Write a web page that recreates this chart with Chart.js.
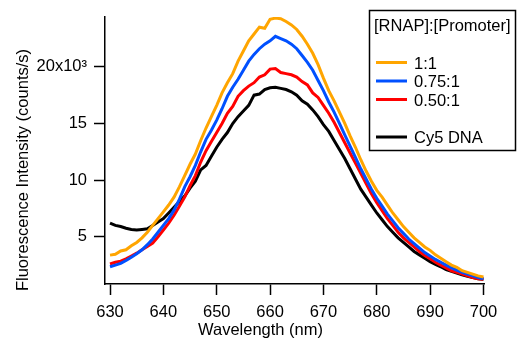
<!DOCTYPE html>
<html lang="en">
<head>
  <meta charset="UTF-8" />
  <title>Fluorescence spectra</title>
  <script src="https://cdn.jsdelivr.net/npm/chart.js"></script>
  <style>
    html, body { margin: 0; padding: 0; background: #fff; }
  </style>
</head>
<body>
  <canvas id="spectrum" width="517" height="342"></canvas>

  <script>
    // wavelengths (nm)
    const wavelengths = [
      630, 631, 632, 633, 634, 635, 636, 637, 638, 639,
      640, 641, 642, 643, 644, 645, 646, 647, 648, 649,
      650, 651, 652, 653, 654, 655, 656, 657, 658, 659,
      660, 661, 662, 663, 664, 665, 666, 667, 668, 669,
      670, 671, 672, 673, 674, 675, 676, 677, 678, 679,
      680, 681, 682, 683, 684, 685, 686, 687, 688, 689,
      690, 691, 692, 693, 694, 695, 696, 697, 698, 699, 700
    ];

    // intensities in 10^3 counts/s
    const ratio100 = [
      3.38, 3.45, 3.75, 3.85, 4.2, 4.5, 4.9, 5.4, 6.0, 6.6,
      7.2, 7.8, 8.5, 9.4, 10.4, 11.4, 12.3, 13.5, 14.6, 15.6,
      16.6, 17.7, 18.6, 19.4, 20.5, 21.4, 22.3, 22.9, 23.5, 23.4,
      24.2, 24.3, 24.25, 24.0, 23.7, 23.3, 22.7, 22.0, 21.2, 20.2,
      19.0, 17.9, 17.0, 16.0, 15.0, 13.9, 12.9, 11.8, 10.8, 9.9,
      9.1, 8.5, 7.8, 7.1, 6.5, 5.9, 5.4, 4.9, 4.5, 4.1,
      3.8, 3.4, 3.1, 2.8, 2.5, 2.3, 2.0, 1.85, 1.7, 1.55, 1.45
    ];
    const ratio075 = [
      2.35, 2.5, 2.65, 2.9, 3.2, 3.5, 3.85, 4.3, 4.8, 5.4,
      6.0, 6.6, 7.35, 8.3, 9.4, 10.3, 11.3, 12.5, 13.6, 14.4,
      15.3, 16.3, 17.4, 18.2, 18.9, 19.7, 20.5, 21.1, 21.6, 22.0,
      22.3, 22.7, 22.5, 22.3, 22.0, 21.6, 21.0, 20.4, 19.7, 18.8,
      17.9, 16.9, 16.0, 15.0, 14.0, 13.0, 12.0, 11.0, 10.1, 9.2,
      8.4, 7.7, 7.0, 6.4, 5.8, 5.3, 4.8, 4.4, 4.0, 3.6,
      3.3, 3.0, 2.75, 2.5, 2.25, 2.05, 1.85, 1.7, 1.55, 1.4, 1.3
    ];
    const ratio050 = [
      2.6, 2.75, 2.85, 3.05, 3.3, 3.55, 3.85, 4.15, 4.45, 5.0,
      5.6, 6.2, 6.9, 7.7, 8.5, 9.5, 10.4, 11.6, 12.6, 13.4,
      14.2, 15.0, 15.9, 16.5, 17.4, 17.9, 18.3, 18.6, 19.1, 19.3,
      19.8, 19.85, 19.5, 19.4, 19.3, 19.1, 18.7, 18.4, 17.7, 17.3,
      16.6, 15.9, 15.1, 14.2, 13.3, 12.4, 11.5, 10.6, 9.7, 8.8,
      8.0, 7.3, 6.6, 6.0, 5.4, 4.9, 4.5, 4.1, 3.7, 3.35,
      3.05, 2.75, 2.5, 2.25, 2.0, 1.85, 1.7, 1.55, 1.4, 1.3, 1.25
    ];
    const cy5Dna = [
      6.2, 6.0, 5.9, 5.75, 5.65, 5.6, 5.65, 5.7, 6.0, 6.3,
      6.6, 7.1, 7.6, 8.1, 8.6, 9.3, 9.9, 10.9, 11.3, 12.1,
      12.9, 13.6, 14.2, 15.0, 15.6, 16.1, 16.6, 17.5, 17.6, 18.0,
      18.15, 18.2, 18.1, 18.0, 17.8, 17.5, 17.0, 16.7, 16.2, 15.6,
      14.9, 14.3, 13.5, 12.7, 11.9, 11.0, 10.1, 9.2, 8.5, 7.8,
      7.1, 6.5, 5.9, 5.4, 4.9, 4.5, 4.1, 3.7, 3.4, 3.1,
      2.8, 2.55, 2.35, 2.1, 1.95, 1.8, 1.65, 1.5, 1.4, 1.3, 1.25
    ];

    const seriesLabels = ["1:1", "0.75:1", "0.50:1", "Cy5 DNA"];
    const seriesColors = ["#ffa500", "#0050ff", "#ff0000", "#000000"];
    const legendTitle = "[RNAP]:[Promoter]";

    const xTicks = [630, 640, 650, 660, 670, 680, 690, 700];
    const yTicks = [5, 10, 15, 20];
    const yTickLabels = ["5", "10", "15", "20x10³"];

    const FONT = '"Liberation Sans", Arial, sans-serif';
    const FONT_SIZE = 16.5;

    // legend row positions (px) - the blank row before Cy5 DNA is kept on purpose
    const legendRows = [62.5, 81, 99.5, 137];

    const legendBox = {
      id: "legendBox",
      afterDraw(chart) {
        const ctx = chart.ctx;
        ctx.save();
        ctx.strokeStyle = "#000";
        ctx.lineWidth = 1.5;
        ctx.strokeRect(369.5, 10.5, 146, 140);
        ctx.font = FONT_SIZE + "px " + FONT;
        ctx.fillStyle = "#000";
        ctx.textBaseline = "alphabetic";
        ctx.fillText(legendTitle, 374, 31);
        chart.data.datasets.forEach((ds, i) => {
          const y = legendRows[i];
          ctx.strokeStyle = ds.borderColor;
          ctx.lineWidth = 3;
          ctx.beginPath();
          ctx.moveTo(376, y);
          ctx.lineTo(407, y);
          ctx.stroke();
          ctx.fillText(ds.label, 414, y + 6);
        });
        ctx.restore();
      }
    };

    // axis titles are centred on the whole window, like the original
    const axisTitles = {
      id: "axisTitles",
      afterDraw(chart) {
        const ctx = chart.ctx;
        ctx.save();
        ctx.font = FONT_SIZE + "px " + FONT;
        ctx.fillStyle = "#000";
        ctx.textAlign = "center";
        ctx.textBaseline = "middle";
        ctx.fillText("Wavelength (nm)", 260.5, 330);
        ctx.translate(23, 170);
        ctx.rotate(-Math.PI / 2);
        ctx.fillText("Fluorescence Intensity (counts/s)", 0, 0);
        ctx.restore();
      }
    };

    const datasets = [ratio100, ratio075, ratio050, cy5Dna].map((vals, i) => ({
      label: seriesLabels[i],
      data: wavelengths.map((w, j) => ({ x: w, y: vals[j] })),
      borderColor: seriesColors[i],
      borderWidth: 3,
      pointRadius: 0,
      tension: 0,
      fill: false
    }));

    const ctx = document.getElementById("spectrum").getContext("2d");
    new Chart(ctx, {
      type: "line",
      data: { datasets: datasets },
      plugins: [legendBox, axisTitles],
      options: {
        responsive: false,
        animation: false,
        layout: { padding: { left: 33, right: 33, top: 17, bottom: 0 } },
        plugins: {
          legend: { display: false },
          tooltip: { enabled: false }
        },
        scales: {
          x: {
            type: "linear",
            min: 629.06,
            max: 700.1,
            afterBuildTicks: s => { s.ticks = xTicks.map(v => ({ value: v })); },
            afterFit: s => { s.height = 58; },
            grid: { drawOnChartArea: false, tickLength: 11, tickWidth: 1.5, tickColor: "#000" },
            border: { color: "#000", width: 1.5 },
            ticks: {
              color: "#000",
              font: { family: FONT, size: FONT_SIZE },
              padding: 8,
              maxRotation: 0,
              callback: v => String(v)
            }
          },
          y: {
            min: 0.83,
            max: 24.4,
            afterBuildTicks: s => { s.ticks = yTicks.map(v => ({ value: v })); },
            afterFit: s => { s.width = 72; },
            grid: { drawOnChartArea: false, tickLength: 11, tickWidth: 1.5, tickColor: "#000" },
            border: { color: "#000", width: 1.5 },
            ticks: {
              color: "#000",
              font: { family: FONT, size: FONT_SIZE },
              padding: 7,
              callback: v => yTickLabels[yTicks.indexOf(v)]
            }
          }
        }
      }
    });
  </script>
</body>
</html>
